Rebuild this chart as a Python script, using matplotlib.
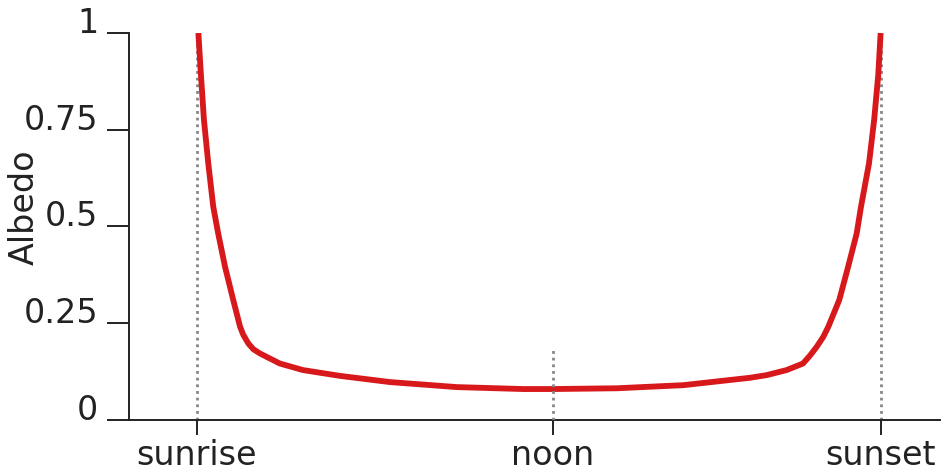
import numpy as np
import matplotlib
matplotlib.use("Agg")
import matplotlib.pyplot as plt

# time of day as fraction of daylight (0 = sunrise, 1 = sunset)
sunrise = 0.0
noon = 0.52
sunset = 1.0

day_frac = [0.002, 0.0058, 0.0102, 0.0165, 0.0238, 0.031, 0.041, 0.053, 0.063,
            0.0677, 0.075, 0.0823, 0.092, 0.121, 0.155, 0.209, 0.282, 0.380,
            0.477, 0.520, 0.614, 0.711, 0.808, 0.833, 0.862, 0.886, 0.896,
            0.906, 0.9157, 0.923, 0.939, 0.952, 0.9645, 0.9708, 0.9825,
            0.990, 0.996, 0.9995]
albedo = [1.00, 0.891, 0.775, 0.663, 0.551, 0.482, 0.396, 0.310, 0.241,
          0.220, 0.198, 0.183, 0.172, 0.146, 0.129, 0.114, 0.098, 0.085,
          0.080, 0.080, 0.082, 0.090, 0.109, 0.116, 0.129, 0.146, 0.166,
          0.189, 0.215, 0.241, 0.310, 0.396, 0.482, 0.551, 0.663,
          0.775, 0.891, 1.00]

yticks = [0, 0.25, 0.5, 0.75, 1]
ytick_labels = ["0", "0.25", "0.5", "0.75", "1"]
xticks = [sunrise, noon, sunset]
xtick_labels = ["sunrise", "noon", "sunset"]
noon_marker_top = 0.183

ink = "#222222"
fig = plt.figure(figsize=(9.45, 4.73), dpi=100)
ax = fig.add_axes([129 / 945, 53 / 473, 811 / 945, 387 / 473])

dots = dict(color="#858585", lw=2.0, ls=(0, (1.0, 1.4)), zorder=2)
ax.plot([sunrise, sunrise], [0, 1], **dots)
ax.plot([sunset, sunset], [0, 1], **dots)

ax.plot(day_frac, albedo, color="#d7191c", lw=4.2, solid_capstyle="butt",
        solid_joinstyle="round", zorder=3)

# the noon marker sits on top of the curve
ax.plot([noon, noon], [0, noon_marker_top], **dict(dots, zorder=4))

ax.set_xlim(-0.0994, 1.0863)
ax.set_ylim(0, 1)

for s in ["top", "right"]:
    ax.spines[s].set_visible(False)
for s in ["left", "bottom"]:
    ax.spines[s].set_linewidth(1.4)
    ax.spines[s].set_color(ink)

ax.set_yticks(yticks)
ax.set_yticklabels(ytick_labels)
ax.set_xticks(xticks)
ax.set_xticklabels(xtick_labels)
ax.tick_params(axis="y", length=16, width=1.4, pad=6, labelsize=24,
               color=ink, labelcolor=ink)
ax.tick_params(axis="x", length=11, width=1.4, pad=3, labelsize=24,
               color=ink, labelcolor=ink)
for lab in ax.get_yticklabels():
    lab.set_verticalalignment("baseline")

ax.set_ylabel("Albedo", fontsize=24, color=ink, labelpad=0)
ax.yaxis.set_label_coords(-0.109, 0.55)

fig.savefig("out.png", dpi=100)
